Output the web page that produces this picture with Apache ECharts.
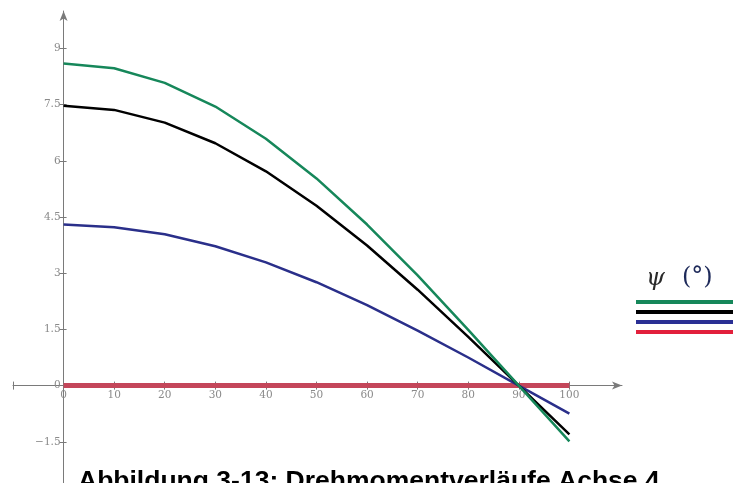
<!DOCTYPE html>
<html>
<head>
<meta charset="utf-8">
<script src="https://cdn.jsdelivr.net/npm/echarts@6/dist/echarts.min.js"></script>
<style>html,body{margin:0;padding:0;background:#fff;}#c{width:733px;height:483px;}</style>
</head>
<body>
<div id="c"></div>
<script>
const xValues = [0, 10, 20, 30, 40, 50, 60, 70, 80, 90, 100];
const seriesGreen = [8.60, 8.47, 8.08, 7.45, 6.59, 5.53, 4.30, 2.94, 1.49, 0.00, -1.49];
const seriesBlack = [7.47, 7.36, 7.02, 6.47, 5.72, 4.80, 3.74, 2.56, 1.30, 0.00, -1.30];
const seriesBlue  = [4.30, 4.23, 4.04, 3.72, 3.29, 2.76, 2.15, 1.47, 0.75, 0.00, -0.75];
const seriesRed   = [0, 0, 0, 0, 0, 0, 0, 0, 0, 0, 0];
const xTickValues = [0, 10, 20, 30, 40, 50, 60, 70, 80, 90, 100];
const yTickValues = [-1.5, 0, 1.5, 3, 4.5, 6, 7.5, 9];
const titleText = 'Abbildung 3-13: Drehmomentverläufe Achse 4';
const legendSymbol = 'ψ';
const legendUnit = '(°)';

const pair = arr => xValues.map((x, i) => [x, arr[i]]);
const fmt = v => (v < 0 ? '\u2212' : '') + String(Math.abs(v));
const axisGray = '#7a7a7a';
const labelFont = { color: '#8a8a8a', fontFamily: 'DejaVu Serif', fontSize: 10.5 };

// grid geometry (layout only)
const G = { left: 13, right: 111, top: 11, bottom: 0 };
const X_MIN = -10, X_MAX = 110.4, Y_MIN = -2.6, Y_MAX = 10;
const plotW = 733 - G.left - G.right, plotH = 483 - G.top - G.bottom;
const zeroFromBottom = (0 - Y_MIN) / (Y_MAX - Y_MIN) * plotH;
const zeroFromLeft = (0 - X_MIN) / (X_MAX - X_MIN) * plotW;

const chart = echarts.init(document.getElementById('c'), null, { renderer: 'canvas' });
chart.setOption({
  animation: false,
  backgroundColor: '#ffffff',
  title: {
    text: titleText,
    left: 73, top: 463,
    textStyle: { fontFamily: 'Liberation Sans', fontWeight: 'bold', fontSize: 26.5, color: '#000' }
  },
  grid: { left: G.left, right: G.right, top: G.top, bottom: G.bottom, containLabel: false, outerBoundsMode: 'none' },
  xAxis: [{
    type: 'value', min: X_MIN, max: X_MAX, position: 'bottom', offset: -zeroFromBottom,
    axisLine: { onZero: false, lineStyle: { color: axisGray, width: 1 }, symbol: ['none', 'arrow'], symbolSize: [6, 10] },
    axisTick: { show: true, inside: false, length: 4, lineStyle: { color: axisGray }, customValues: [X_MIN].concat(xTickValues) },
    axisLabel: { ...labelFont, margin: 4, customValues: xTickValues, formatter: fmt },
    splitLine: { show: false }
  }, {
    type: 'value', min: X_MIN, max: X_MAX, position: 'bottom', offset: -zeroFromBottom,
    axisLine: { show: false, onZero: false },
    axisTick: { show: true, inside: true, length: 4, lineStyle: { color: axisGray }, customValues: [X_MIN].concat(xTickValues) },
    axisLabel: { show: false },
    splitLine: { show: false }
  }],
  yAxis: [{
    type: 'value', min: Y_MIN, max: Y_MAX, position: 'left', offset: -zeroFromLeft,
    axisLine: { onZero: false, lineStyle: { color: axisGray, width: 1 }, symbol: ['none', 'arrow'], symbolSize: [6, 10] },
    axisTick: { show: true, inside: false, length: 4, lineStyle: { color: axisGray }, customValues: yTickValues },
    axisLabel: { ...labelFont, margin: 3, customValues: yTickValues, formatter: fmt },
    splitLine: { show: false }
  }, {
    type: 'value', min: Y_MIN, max: Y_MAX, position: 'left', offset: -zeroFromLeft,
    axisLine: { show: false, onZero: false },
    axisTick: { show: true, inside: true, length: 3, lineStyle: { color: axisGray }, customValues: yTickValues },
    axisLabel: { show: false },
    splitLine: { show: false }
  }],
  legend: {
    orient: 'vertical', left: 631, top: 295, itemWidth: 105, itemHeight: 4, itemGap: 6,
    icon: 'rect', selectedMode: false, formatter: () => '',
    textStyle: { fontSize: 1 },
    data: [
      { name: 'ψ1', itemStyle: { color: '#16875a' } },
      { name: 'ψ2', itemStyle: { color: '#000000' } },
      { name: 'ψ3', itemStyle: { color: '#2a2f94' } },
      { name: 'ψ4', itemStyle: { color: '#e2203c' } }
    ]
  },
  graphic: [{
    type: 'text', left: 646, top: 267,
    style: { text: legendSymbol, fontFamily: 'DejaVu Serif', fontStyle: 'italic', fontSize: 24, fill: '#2a2a2a' }
  }, {
    type: 'text', left: 682, top: 266,
    style: { text: legendUnit, fontFamily: 'DejaVu Serif', fontSize: 24, fill: '#1e2a5a' }
  }],
  series: [
    { name: 'ψ4', type: 'line', xAxisIndex: 0, yAxisIndex: 0, data: pair(seriesRed), showSymbol: false, color: '#c4465a', lineStyle: { width: 5, color: '#c4465a' }, z: 2 },
    { name: 'ψ3', type: 'line', xAxisIndex: 0, yAxisIndex: 0, data: pair(seriesBlue), showSymbol: false, color: '#2a2f8a', lineStyle: { width: 2.5, color: '#2a2f8a' }, z: 3 },
    { name: 'ψ2', type: 'line', xAxisIndex: 0, yAxisIndex: 0, data: pair(seriesBlack), showSymbol: false, color: '#000', lineStyle: { width: 2.5, color: '#000' }, z: 4 },
    { name: 'ψ1', type: 'line', xAxisIndex: 0, yAxisIndex: 0, data: pair(seriesGreen), showSymbol: false, color: '#16875a', lineStyle: { width: 2.5, color: '#16875a' }, z: 5 }
  ]
});
</script>
</body>
</html>
